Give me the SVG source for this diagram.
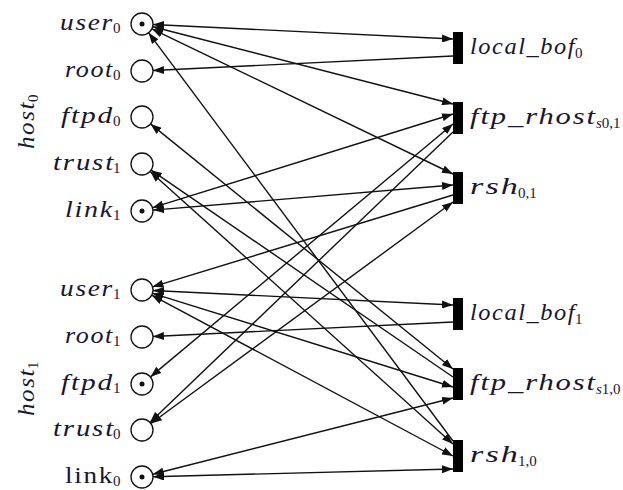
<svg xmlns="http://www.w3.org/2000/svg" width="623" height="490" viewBox="0 0 623 490">
  <style>
    .pl { fill: #fff; stroke: #111; stroke-width: 1.3; }
    .tok { fill: #111; }
    .tr { fill: #000; }
    .arc { fill: none; stroke: #111; stroke-width: 1.4; }
    .rd { marker-start: url(#ah); marker-end: url(#ah); }
    .out { marker-end: url(#ah); }
    text { fill: #17172e; font-family: "Liberation Serif", "Times New Roman", serif; }
    .m { font-size: 24px; font-style: italic; letter-spacing: 1.5px; }
    .up { font-size: 24px; font-style: normal; letter-spacing: 1.5px; }
    .s { font-size: 15px; font-style: normal; }
    .si { font-style: italic; }
  </style>
  <defs>
    <marker id="ah" viewBox="0 0 11 8" refX="11" refY="4" markerWidth="11" markerHeight="8" markerUnits="userSpaceOnUse" orient="auto-start-reverse">
      <path d="M0,0L11,4L0,8z" fill="#111"/>
    </marker>
  </defs>

  <!-- arcs of the net -->
  <g id="arcs">
    <line class="arc rd" x1="153.0" y1="24.5" x2="453" y2="39"/>
    <line class="arc out" x1="453" y1="56" x2="153.0" y2="70.5"/>
    <line class="arc rd" x1="152.7" y1="26.7" x2="453" y2="104"/>
    <line class="arc rd" x1="151.9" y1="28.8" x2="453" y2="174"/>
    <line class="arc out" x1="453" y1="441" x2="148.6" y2="32.8"/>
    <line class="arc rd" x1="152.5" y1="207.7" x2="453" y2="114"/>
    <line class="arc rd" x1="153.0" y1="210.1" x2="453" y2="185"/>
    <line class="arc rd" x1="150.4" y1="376.9" x2="453" y2="124"/>
    <line class="arc out" x1="453" y1="132" x2="149.9" y2="422.4"/>
    <line class="arc rd" x1="150.9" y1="423.5" x2="453" y2="202"/>
    <line class="arc out" x1="453" y1="195" x2="152.5" y2="286.8"/>
    <line class="arc rd" x1="153.0" y1="290.5" x2="453" y2="305"/>
    <line class="arc out" x1="453" y1="322" x2="153.0" y2="336.5"/>
    <line class="arc rd" x1="152.5" y1="293.3" x2="453" y2="387"/>
    <line class="arc rd" x1="151.7" y1="295.2" x2="453" y2="456"/>
    <line class="arc rd" x1="150.5" y1="123.9" x2="453" y2="369"/>
    <line class="arc out" x1="453" y1="377" x2="151.1" y2="170.2"/>
    <line class="arc rd" x1="150.2" y1="171.4" x2="453" y2="444"/>
    <line class="arc rd" x1="152.7" y1="474.3" x2="453" y2="398"/>
    <line class="arc rd" x1="153.0" y1="476.7" x2="453" y2="469"/>
  </g>

  <!-- host group captions -->
  <g id="host0">
    <g transform="translate(34,149) rotate(-90)">
      <text class="m" x="0" y="0" textLength="48" lengthAdjust="spacingAndGlyphs">host</text>
      <text class="s" x="47" y="4">0</text>
    </g>
  </g>
  <g id="host1">
    <g transform="translate(34,416) rotate(-90)">
      <text class="m" x="0" y="0" textLength="48" lengthAdjust="spacingAndGlyphs">host</text>
      <text class="s" x="47" y="4">1</text>
    </g>
  </g>

  <!-- places -->
  <g id="user0">
    <circle class="pl" cx="142" cy="24" r="11"/><circle class="tok" cx="142" cy="24" r="2.5"/>
    <text class="m" x="60" y="30" textLength="54" lengthAdjust="spacingAndGlyphs">user</text><text class="s" x="113" y="33">0</text>
  </g>
  <g id="root0">
    <circle class="pl" cx="142" cy="71" r="11"/>
    <text class="m" x="65" y="77" textLength="49" lengthAdjust="spacingAndGlyphs">root</text><text class="s" x="113" y="80">0</text>
  </g>
  <g id="ftpd0">
    <circle class="pl" cx="142" cy="117" r="11"/>
    <text class="m" x="61" y="123" textLength="53" lengthAdjust="spacingAndGlyphs">ftpd</text><text class="s" x="113" y="126">0</text>
  </g>
  <g id="trust1">
    <circle class="pl" cx="142" cy="164" r="11"/>
    <text class="m" x="53" y="170" textLength="62" lengthAdjust="spacingAndGlyphs">trust</text><text class="s" x="113" y="173">1</text>
  </g>
  <g id="link1">
    <circle class="pl" cx="142" cy="211" r="11"/><circle class="tok" cx="142" cy="211" r="2.5"/>
    <text class="m" x="65" y="217" textLength="49" lengthAdjust="spacingAndGlyphs">link</text><text class="s" x="113" y="220">1</text>
  </g>
  <g id="user1">
    <circle class="pl" cx="142" cy="290" r="11"/>
    <text class="m" x="60" y="296" textLength="54" lengthAdjust="spacingAndGlyphs">user</text><text class="s" x="113" y="299">1</text>
  </g>
  <g id="root1">
    <circle class="pl" cx="142" cy="337" r="11"/>
    <text class="m" x="65" y="343" textLength="49" lengthAdjust="spacingAndGlyphs">root</text><text class="s" x="113" y="346">1</text>
  </g>
  <g id="ftpd1">
    <circle class="pl" cx="142" cy="384" r="11"/><circle class="tok" cx="142" cy="384" r="2.5"/>
    <text class="m" x="61" y="390" textLength="53" lengthAdjust="spacingAndGlyphs">ftpd</text><text class="s" x="113" y="393">1</text>
  </g>
  <g id="trust0">
    <circle class="pl" cx="142" cy="430" r="11"/>
    <text class="m" x="53" y="436" textLength="62" lengthAdjust="spacingAndGlyphs">trust</text><text class="s" x="113" y="439">0</text>
  </g>
  <g id="link0">
    <circle class="pl" cx="142" cy="477" r="11"/><circle class="tok" cx="142" cy="477" r="2.5"/>
    <text class="up" x="65" y="483" textLength="49" lengthAdjust="spacingAndGlyphs">link</text><text class="s" x="113" y="486">0</text>
  </g>

  <!-- transitions -->
  <g id="local_bof0">
    <rect class="tr" x="453" y="32" width="10" height="32"/>
    <text class="m" x="470" y="54" textLength="106" lengthAdjust="spacingAndGlyphs">local_bof</text><text class="s" x="575" y="58">0</text>
  </g>
  <g id="ftp_rhost_s01">
    <rect class="tr" x="453" y="102" width="10" height="32"/>
    <text class="m" x="470" y="124" textLength="127" lengthAdjust="spacingAndGlyphs">ftp_rhost</text><text class="s" x="596" y="128"><tspan class="si">s</tspan>0,1</text>
  </g>
  <g id="rsh01">
    <rect class="tr" x="453" y="172" width="10" height="32"/>
    <text class="m" x="470" y="194" textLength="50" lengthAdjust="spacingAndGlyphs">rsh</text><text class="s" x="518" y="198">0,1</text>
  </g>
  <g id="local_bof1">
    <rect class="tr" x="453" y="298" width="10" height="32"/>
    <text class="m" x="470" y="320" textLength="106" lengthAdjust="spacingAndGlyphs">local_bof</text><text class="s" x="575" y="324">1</text>
  </g>
  <g id="ftp_rhost_s10">
    <rect class="tr" x="453" y="368" width="10" height="32"/>
    <text class="m" x="470" y="390" textLength="127" lengthAdjust="spacingAndGlyphs">ftp_rhost</text><text class="s" x="596" y="394"><tspan class="si">s</tspan>1,0</text>
  </g>
  <g id="rsh10">
    <rect class="tr" x="453" y="440" width="10" height="32"/>
    <text class="m" x="470" y="462" textLength="50" lengthAdjust="spacingAndGlyphs">rsh</text><text class="s" x="518" y="466">1,0</text>
  </g>
</svg>
